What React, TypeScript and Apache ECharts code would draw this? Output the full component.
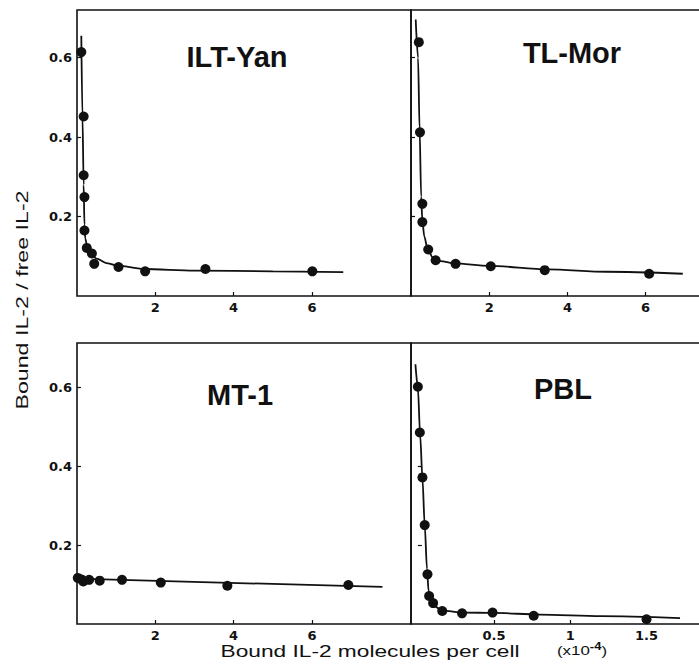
import React, { useEffect, useRef } from 'react';
import * as echarts from 'echarts';

const panelTitles = ['ILT-Yan', 'TL-Mor', 'MT-1', 'PBL'];
const yAxisTitle = 'Bound IL-2 / free IL-2';
const xAxisTitle = 'Bound IL-2 molecules per cell';

const yTicks = [0.2, 0.4, 0.6];
const xTicksMain = [2, 4, 6];
const xTicksPbl = [0.5, 1, 1.5];

// ILT-Yan
const iltX = [0.11, 0.17, 0.17, 0.19, 0.19, 0.25, 0.38, 0.44, 1.06, 1.74, 3.28, 6.01];
const iltY = [0.614, 0.452, 0.304, 0.249, 0.165, 0.121, 0.107, 0.081, 0.073, 0.062, 0.068, 0.062];
const iltFitX = [0.11, 0.14, 0.17, 0.19, 0.21, 0.27, 0.35, 0.5, 0.75, 1.0, 1.7, 3.0, 5.0, 6.8];
const iltFitY = [0.655, 0.45, 0.28, 0.18, 0.145, 0.12, 0.105, 0.094, 0.083, 0.077, 0.068, 0.064, 0.062, 0.06];

// TL-Mor
const tlX = [0.2, 0.23, 0.29, 0.29, 0.44, 0.63, 1.14, 2.04, 3.42, 6.09];
const tlY = [0.639, 0.412, 0.232, 0.186, 0.117, 0.09, 0.081, 0.075, 0.065, 0.056];
const tlFitX = [0.12, 0.18, 0.22, 0.26, 0.29, 0.34, 0.42, 0.55, 0.75, 1.1, 2.0, 3.5, 5.0, 6.95];
const tlFitY = [0.696, 0.6, 0.42, 0.25, 0.19, 0.15, 0.12, 0.098, 0.088, 0.082, 0.076, 0.067, 0.061, 0.056];

// MT-1
const mtX = [0.02, 0.12, 0.16, 0.31, 0.58, 1.15, 2.14, 3.84, 6.93];
const mtY = [0.117, 0.113, 0.108, 0.112, 0.11, 0.112, 0.105, 0.097, 0.099];
const mtFitX = [0.0, 7.8];
const mtFitY = [0.115, 0.094];

// PBL
const pblX = [0.0, 0.013, 0.03, 0.045, 0.063, 0.074, 0.1, 0.16, 0.29, 0.49, 0.76, 1.5];
const pblY = [0.602, 0.486, 0.372, 0.251, 0.126, 0.071, 0.053, 0.033, 0.027, 0.029, 0.021, 0.012];
const pblFitX = [-0.016, 0.0, 0.015, 0.03, 0.045, 0.06, 0.07, 0.085, 0.11, 0.16, 0.3, 0.5, 0.8, 1.2, 1.72];
const pblFitY = [0.659, 0.6, 0.48, 0.37, 0.25, 0.14, 0.085, 0.06, 0.045, 0.034, 0.029, 0.028, 0.024, 0.02, 0.015];

const zip = (xs: number[], ys: number[]) => xs.map((x, i) => [x, ys[i]]);

const INK = '#111111';

export default function App() {
  const ref = useRef<HTMLDivElement>(null);
  useEffect(() => {
    if (!ref.current) return;
    const chart = echarts.init(ref.current, undefined, { renderer: 'svg' });

    const grids = [
      { left: 77, top: 10, width: 334, height: 286 },
      { left: 411, top: 10, width: 332, height: 286 },
      { left: 77, top: 343, width: 334, height: 281 },
      { left: 411, top: 343, width: 332, height: 281 },
    ];
    const xRanges = [
      [0, 8.53],
      [0, 8.49],
      [0, 8.53],
      [-0.045, 2.133],
    ];
    const yMax = [0.72, 0.72, 0.713, 0.713];
    const xTicks = [xTicksMain, xTicksMain, xTicksMain, xTicksPbl];
    const points = [zip(iltX, iltY), zip(tlX, tlY), zip(mtX, mtY), zip(pblX, pblY)];
    const fits = [zip(iltFitX, iltFitY), zip(tlFitX, tlFitY), zip(mtFitX, mtFitY), zip(pblFitX, pblFitY)];
    const titlePos = [
      [237, 57],
      [572, 53],
      [240, 395],
      [563, 389],
    ];

    const labelFont = {
      fontSize: 13,
      fontWeight: 'bold' as const,
      fontFamily: 'DejaVu Sans',
      color: INK,
    };

    const option: any = {
      animation: false,
      backgroundColor: '#ffffff',
      grid: grids.map((g) => ({
        ...g,
        show: true,
        borderColor: INK,
        borderWidth: 1.6,
        backgroundColor: 'transparent',
        containLabel: false,
        outerBoundsMode: 'none',
      })),
      xAxis: grids.map((_, i) => ({
        type: 'value',
        gridIndex: i,
        min: xRanges[i][0],
        max: xRanges[i][1],
        axisLine: { show: false },
        splitLine: { show: false },
        axisTick: {
          show: true,
          inside: true,
          length: 4,
          customValues: xTicks[i],
          lineStyle: { color: INK, width: 1.2 },
        },
        axisLabel: {
          ...labelFont,
          margin: 5,
          customValues: xTicks[i],
          formatter: (v: number) => String(v),
        },
      })),
      yAxis: grids.map((_, i) => ({
        type: 'value',
        gridIndex: i,
        min: 0,
        max: yMax[i],
        axisLine: { show: false },
        splitLine: { show: false },
        axisTick: {
          show: true,
          inside: true,
          length: 4,
          customValues: yTicks,
          lineStyle: { color: INK, width: 1.2 },
        },
        axisLabel: {
          ...labelFont,
          show: i === 0 || i === 2,
          margin: 5,
          customValues: yTicks,
          formatter: (v: number) => v.toFixed(1),
        },
      })),
      series: [
        ...fits.map((d, i) => ({
          type: 'line',
          xAxisIndex: i,
          yAxisIndex: i,
          data: d,
          smooth: 0.3,
          smoothMonotone: 'x',
          showSymbol: false,
          lineStyle: { color: INK, width: 1.8 },
          z: 2,
        })),
        ...points.map((d, i) => ({
          type: 'scatter',
          xAxisIndex: i,
          yAxisIndex: i,
          data: d,
          symbol: 'circle',
          symbolSize: 10,
          itemStyle: { color: INK, opacity: 1 },
          z: 3,
        })),
      ],
      graphic: [
        ...panelTitles.map((t, i) => ({
          type: 'text',
          x: titlePos[i][0],
          y: titlePos[i][1],
          style: {
            text: t,
            fontSize: 29,
            fontWeight: 'bold',
            fontFamily: 'Liberation Sans',
            fill: INK,
            textAlign: 'center',
            textVerticalAlign: 'middle',
          },
        })),
        {
          type: 'text',
          x: 22,
          y: 300,
          rotation: Math.PI / 2,
          scaleX: 1.45,
          style: {
            text: yAxisTitle,
            fontSize: 16,
            fontFamily: 'Liberation Sans',
            fill: INK,
            textAlign: 'center',
            textVerticalAlign: 'middle',
          },
        },
        {
          type: 'text',
          x: 370,
          y: 651,
          scaleX: 1.42,
          style: {
            text: xAxisTitle,
            fontSize: 16,
            fontFamily: 'Liberation Sans',
            fill: INK,
            textAlign: 'center',
            textVerticalAlign: 'middle',
          },
        },
        {
          type: 'text',
          x: 582,
          y: 650,
          scaleX: 1.3,
          style: {
            text: '{a|(x10}{b|-4}{a|)}',
            rich: {
              a: { fontSize: 13, fontFamily: 'Liberation Sans', fill: INK, color: INK },
              b: { fontSize: 10, fontWeight: 'bold', fontFamily: 'Liberation Sans', fill: INK, color: INK, verticalAlign: 'top', padding: [0, 0, 6, 0] },
            },
            textAlign: 'center',
            textVerticalAlign: 'middle',
          },
        },
      ],
    };
    chart.setOption(option);
    return () => chart.dispose();
  }, []);
  return (
    <div
      ref={ref}
      style={{ position: 'fixed', left: 0, top: 0, width: 699, height: 668, overflow: 'hidden' }}
    />
  );
}
